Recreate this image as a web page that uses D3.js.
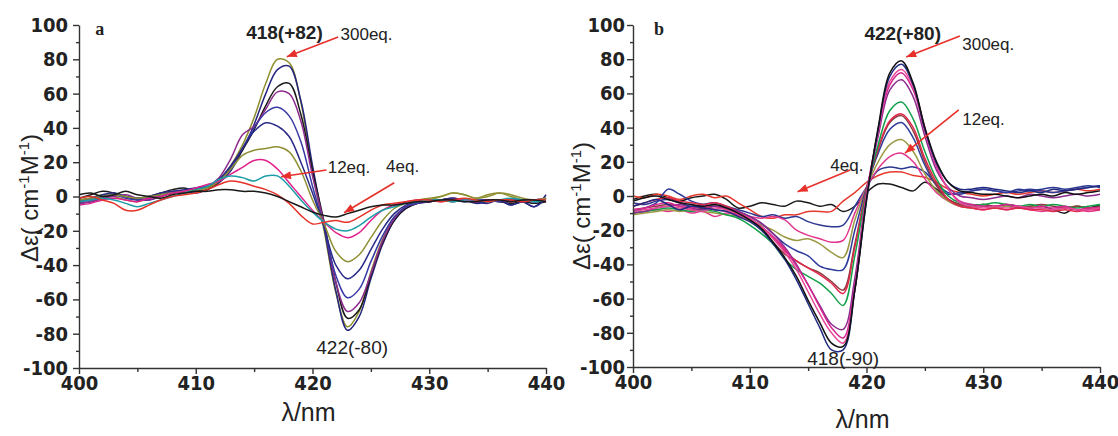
<!DOCTYPE html>
<html>
<head>
<meta charset="utf-8">
<script src="https://cdn.jsdelivr.net/npm/d3@7"></script>
<style>
  body { margin: 0; background: #fff; }
  svg text { font-family: "Liberation Sans", Arial, sans-serif; fill: #222; }
  .tick text { font-family: "Liberation Sans Narrow", "DejaVu Sans Condensed", "Liberation Sans", sans-serif; font-weight: bold; font-size: 20px; }
</style>
</head>
<body>
<svg id="chart" width="1118" height="436"></svg>
<script>
// wavelength grid, 1 nm steps
const wl = d3.range(400, 441);
const yTicks = d3.range(-100, 101, 20);
const yMinor = d3.range(-90, 91, 20);
const xTicks = [400, 410, 420, 430, 440];
const xMinor = [405, 415, 425, 435];

// ---- panel a : 11 titration curves (400..440 nm)
const aColors = ["#8f8f2e", "#24247e", "#1a1a1a", "#8e2c8e", "#3838a6", "#2a2a88",
                 "#8f8f34", "#e0218c", "#1b9ea8", "#e6332a", "#1a1a1a"];
const aSeries = [
  [-3,-1,1,0,-2,-3,-1,1,3,2,3,5,9,18,30,46,66,80,78,55,14,-20,-56,-76,-67,-44,-25,-12,-6,-3,-2,0,2,1,-1,1,2,0,-2,-2,-1],
  [-4,-3,-1,1,0,-2,-2,0,2,3,2,4,8,15,27,42,60,74,76,56,18,-18,-55,-78,-70,-48,-28,-14,-7,-4,-3,-2,-1,-2,-4,-3,-2,-5,-3,-6,1],
  [-1,1,3,2,0,-1,0,2,4,5,3,4,9,17,27,39,53,64,66,48,15,-15,-50,-71,-66,-46,-27,-14,-7,-4,-3,-2,-3,-2,-3,-2,-3,-4,-3,-4,-3],
  [-4,-3,-1,0,1,-1,-2,0,2,3,4,6,11,22,36,41,51,61,60,44,12,-16,-50,-67,-62,-45,-26,-13,-6,-4,-3,-2,-1,-2,-2,-3,-2,-2,-3,-2,-1],
  [-3,-2,0,1,-1,-2,-1,1,2,3,5,6,10,17,28,40,49,52,47,32,6,-18,-46,-59,-54,-38,-23,-12,-6,-4,-3,-2,-2,-3,-2,-2,-3,-2,-2,-3,-2],
  [-2,-1,1,2,0,-1,0,2,3,4,5,6,10,18,28,38,43,41,35,20,2,-18,-40,-48,-43,-31,-19,-10,-5,-3,-2,-2,-1,-2,-3,-4,-2,-5,-3,-6,-1],
  [-2,-1,0,1,0,-1,0,1,2,3,4,5,9,16,24,27,28,29,26,15,-2,-16,-32,-38,-34,-24,-14,-7,-4,-2,-1,0,2,1,-1,0,2,1,-1,-2,-1],
  [-5,-4,-2,-1,-2,-3,-1,0,2,3,5,7,9,13,17,21,21,16,8,0,-8,-15,-21,-24,-21,-14,-8,-5,-3,-2,-2,-3,-2,-2,-3,-2,-2,-3,-2,-2,-3],
  [-3,-2,-1,-2,-4,-6,-4,-2,0,2,4,6,10,12,11,9,12,12,6,-2,-9,-15,-19,-20,-17,-12,-8,-6,-4,-3,-2,-2,-3,-2,-2,-3,-2,-1,-2,-3,-2],
  [-1,0,-2,-4,-8,-8,-5,-2,0,1,2,4,7,9,8,6,4,1,-4,-11,-16,-15,-14,-15,-12,-8,-5,-4,-3,-2,-2,-3,-2,-1,-2,-3,-2,-2,-3,-2,-2],
  [1,2,0,1,3,1,0,-1,1,2,3,3,4,4,3,3,2,0,-3,-6,-9,-11,-12,-10,-8,-6,-5,-5,-4,-3,-3,-2,-2,-3,-3,-2,-2,-3,-2,-2,-3]
];
// annotations, in data units [lambda, value]
const aTexts = [
  { t: "a", at: [401.4, 98], cls: "panel" },
  { t: "418(+82)", at: [417.6, 96], cls: "bold", anchor: "middle" },
  { t: "300eq.", at: [422.4, 95], cls: "eq" },
  { t: "12eq.", at: [421.3, 17], cls: "eq" },
  { t: "4eq.", at: [426.3, 18], cls: "eq" },
  { t: "422(-80)", at: [423.4, -88], cls: "peak", anchor: "middle" }
];
const aArrows = [
  [[422.2, 93], [417.8, 81.5]],
  [[421.2, 15.5], [417.3, 11.5]],
  [[427.0, 8], [422.7, -9.5]]
];

// ---- panel b : 14 titration curves (400..440 nm)
const bColors = ["#1a1a1a", "#e6392e", "#2b3791", "#e2368e", "#9c9a45", "#2f3c9c", "#8b3b3f",
                 "#e0284a", "#13a04a", "#8b2c8e", "#d6268f", "#e8479a", "#1f2a80", "#111111"];
const bSeries = [
  [-2,0,1,-1,-3,-1,0,1,-2,-7,-6,-4,-5,-6,-3,-4,-6,-5,-9,-6,2,7,7,5,3,8,4,-2,-5,-6,-5,-6,-5,-6,-7,-6,-8,-10,-6,-7,-5],
  [0,-1,1,0,-2,0,1,-1,0,-4,-8,-12,-13,-11,-11,-9,-9,-9,-3,2,8,12,14,14,12,11,8,4,2,1,0,1,2,1,2,3,2,3,4,3,4],
  [-4,-5,-3,-2,-4,-6,-5,-4,-6,-8,-10,-12,-11,-13,-12,-15,-17,-18,-17,-6,5,15,17,16,17,14,7,2,1,3,4,3,2,4,3,4,5,4,5,6,5],
  [-10,-9,-8,-9,-8,-10,-9,-12,-10,-11,-12,-13,-12,-14,-20,-23,-25,-27,-26,-10,5,16,23,25,20,10,2,-3,-6,-7,-8,-7,-8,-7,-8,-9,-8,-7,-8,-9,-8],
  [-11,-10,-9,-8,-9,-8,-9,-10,-11,-12,-14,-17,-20,-24,-26,-25,-28,-33,-36,-14,5,20,30,33,26,13,3,-3,-6,-7,-6,-7,-6,-7,-6,-7,-8,-7,-6,-7,-7],
  [-9,-7,-4,4,1,-3,-5,-6,-7,-9,-12,-16,-22,-28,-32,-35,-41,-43,-43,-20,5,25,39,43,34,18,6,1,2,3,4,3,2,3,4,3,2,3,4,5,6],
  [-8,-7,-6,-5,-6,-8,-7,-6,-8,-10,-14,-19,-27,-34,-38,-42,-45,-50,-55,-28,4,27,43,47,38,20,6,-2,-5,-6,-5,-6,-5,-7,-6,-5,-6,-7,-6,-7,-6],
  [-6,-4,-2,-1,-3,-4,-5,-4,-6,-9,-13,-18,-24,-32,-38,-42,-46,-51,-57,-30,4,28,44,48,40,22,8,-2,-6,-7,-8,-7,-8,-7,-8,-8,-9,-8,-9,-8,-8],
  [-10,-9,-8,-7,-8,-9,-8,-9,-11,-13,-17,-22,-28,-37,-43,-47,-51,-57,-64,-35,3,30,50,55,45,26,10,0,-4,-5,-5,-4,-5,-6,-5,-6,-5,-6,-7,-6,-5],
  [-10,-9,-7,-6,-5,-7,-8,-6,-7,-9,-12,-16,-22,-30,-40,-52,-64,-75,-78,-48,2,35,62,68,58,35,15,5,0,-1,-2,-1,0,-1,1,0,-1,0,1,0,1],
  [-8,-7,-5,-4,-6,-7,-6,-8,-9,-11,-14,-18,-24,-31,-41,-52,-65,-77,-83,-52,1,37,65,72,62,38,17,4,-3,-5,-6,-6,-5,-6,-7,-6,-7,-6,-8,-7,-7],
  [-9,-8,-7,-6,-7,-8,-9,-7,-8,-10,-13,-18,-25,-33,-43,-56,-69,-80,-86,-55,0,38,67,74,64,40,18,4,-4,-6,-7,-6,-7,-6,-7,-7,-8,-7,-8,-8,-7],
  [-6,-4,-2,-5,-8,-6,-7,-8,-9,-12,-15,-20,-28,-37,-49,-63,-77,-90,-90,-55,-3,39,70,77,65,39,19,8,4,4,5,4,3,2,3,2,4,3,4,5,6],
  [-3,-1,0,-2,-4,-5,-6,-5,-7,-10,-14,-19,-27,-36,-47,-61,-74,-86,-88,-55,-2,40,72,79,66,40,20,8,3,2,1,1,0,-1,0,1,0,2,1,2,3]
];
const bTexts = [
  { t: "b", at: [401.8, 98], cls: "panel" },
  { t: "422(+80)", at: [423.1, 95], cls: "bold", anchor: "middle" },
  { t: "300eq.", at: [428.2, 89], cls: "eq" },
  { t: "12eq.", at: [428.2, 45], cls: "eq" },
  { t: "4eq.", at: [416.9, 18], cls: "eq" },
  { t: "418(-90)", at: [418.0, -95], cls: "peak", anchor: "middle" }
];
const bArrows = [
  [[428.0, 93.5], [423.4, 81.3]],
  [[427.9, 50.3], [423.3, 25.1]],
  [[418.6, 15.2], [414.1, 2.5]]
];

const svg = d3.select("#chart");

svg.append("defs").append("marker")
  .attr("id", "head")
  .attr("markerUnits", "userSpaceOnUse")
  .attr("viewBox", "0 0 10 8")
  .attr("refX", 10).attr("refY", 4)
  .attr("markerWidth", 11).attr("markerHeight", 8)
  .attr("orient", "auto")
  .append("path").attr("d", "M0,0L10,4L0,8Z").attr("fill", "#e8302a");

function drawPanel(p) {
  const x = d3.scaleLinear().domain([400, 440]).range([p.left, p.right]);
  const y = d3.scaleLinear().domain([-100, 100]).range([p.bottom, p.top]);
  const g = svg.append("g");

  // curves
  const line = d3.line()
    .x((d, i) => x(wl[i]))
    .y(d => y(d))
    .curve(d3.curveCatmullRom.alpha(0.5));
  g.selectAll("path.curve")
    .data(p.series)
    .join("path")
    .attr("class", "curve")
    .attr("d", line)
    .attr("fill", "none")
    .attr("stroke", (d, i) => p.colors[i])
    .attr("stroke-width", 1.5);

  // axes (plain hyphen minus like the original)
  const fmt = d => String(d);
  const yAx = g.append("g").attr("transform", "translate(" + p.left + ",0)")
    .call(d3.axisLeft(y).tickValues(yTicks).tickFormat(fmt).tickSize(6).tickSizeOuter(0).tickPadding(p.yPad));
  g.append("g").attr("transform", "translate(" + p.left + ",0)")
    .call(d3.axisLeft(y).tickValues(yMinor).tickSize(3).tickFormat("").tickSizeOuter(0))
    .select(".domain").remove();
  const xAx = g.append("g").attr("transform", "translate(0," + p.bottom + ")")
    .call(d3.axisBottom(x).tickValues(xTicks).tickFormat(fmt).tickSize(6).tickSizeOuter(0).tickPadding(2));
  g.append("g").attr("transform", "translate(0," + p.bottom + ")")
    .call(d3.axisBottom(x).tickValues(xMinor).tickSize(4).tickFormat("").tickSizeOuter(0))
    .select(".domain").remove();
  g.selectAll(".domain, .tick line").attr("stroke", "#333").attr("stroke-width", 1.4);
  yAx.selectAll(".tick text").attr("fill", "#222");
  xAx.selectAll(".tick text").attr("fill", "#222");

  // axis titles
  g.append("text")
    .attr("x", (p.left + p.right) / 2 - 4).attr("y", p.xTitleY)
    .attr("text-anchor", "middle")
    .style("font-size", "25px")
    .text("λ/nm");
  const yt = g.append("text")
    .attr("transform", "translate(" + p.yTitleX + "," + p.yTitleY + ") rotate(-90)")
    .attr("text-anchor", "middle")
    .style("font-size", "24px");
  yt.append("tspan").text("Δε( cm");
  yt.append("tspan").attr("dy", -9).style("font-size", "15px").text("-1");
  yt.append("tspan").attr("dy", 9).text("M");
  yt.append("tspan").attr("dy", -9).style("font-size", "15px").text("-1");
  yt.append("tspan").attr("dy", 9).text(")");

  // arrows
  g.selectAll("line.arrow")
    .data(p.arrows)
    .join("line")
    .attr("class", "arrow")
    .attr("x1", d => x(d[0][0])).attr("y1", d => y(d[0][1]))
    .attr("x2", d => x(d[1][0])).attr("y2", d => y(d[1][1]))
    .attr("stroke", "#e8302a").attr("stroke-width", 1.6)
    .attr("marker-end", "url(#head)");

  // annotation texts
  g.selectAll("text.note")
    .data(p.texts)
    .join("text")
    .attr("class", "note")
    .attr("x", d => x(d.at[0])).attr("y", d => y(d.at[1]))
    .attr("dy", "0.35em")
    .attr("text-anchor", d => d.anchor || "start")
    .style("font-family", d => d.cls === "panel" ? "'Liberation Serif', 'Times New Roman', serif" : null)
    .style("font-weight", d => (d.cls === "bold" || d.cls === "panel") ? "bold" : "normal")
    .style("font-size", d => d.cls === "panel" ? "18px" : d.cls === "eq" ? "17px" : "19px")
    .text(d => d.t);
}

drawPanel({
  left: 79, right: 546, top: 25, bottom: 368,
  series: aSeries, colors: aColors, texts: aTexts, arrows: aArrows,
  yPad: 5, xTitleY: 421, yTitleX: 38, yTitleY: 198
});
drawPanel({
  left: 633, right: 1100, top: 25, bottom: 367,
  series: bSeries, colors: bColors, texts: bTexts, arrows: bArrows,
  yPad: 2, xTitleY: 428, yTitleX: 590, yTitleY: 206
});
</script>
</body>
</html>
